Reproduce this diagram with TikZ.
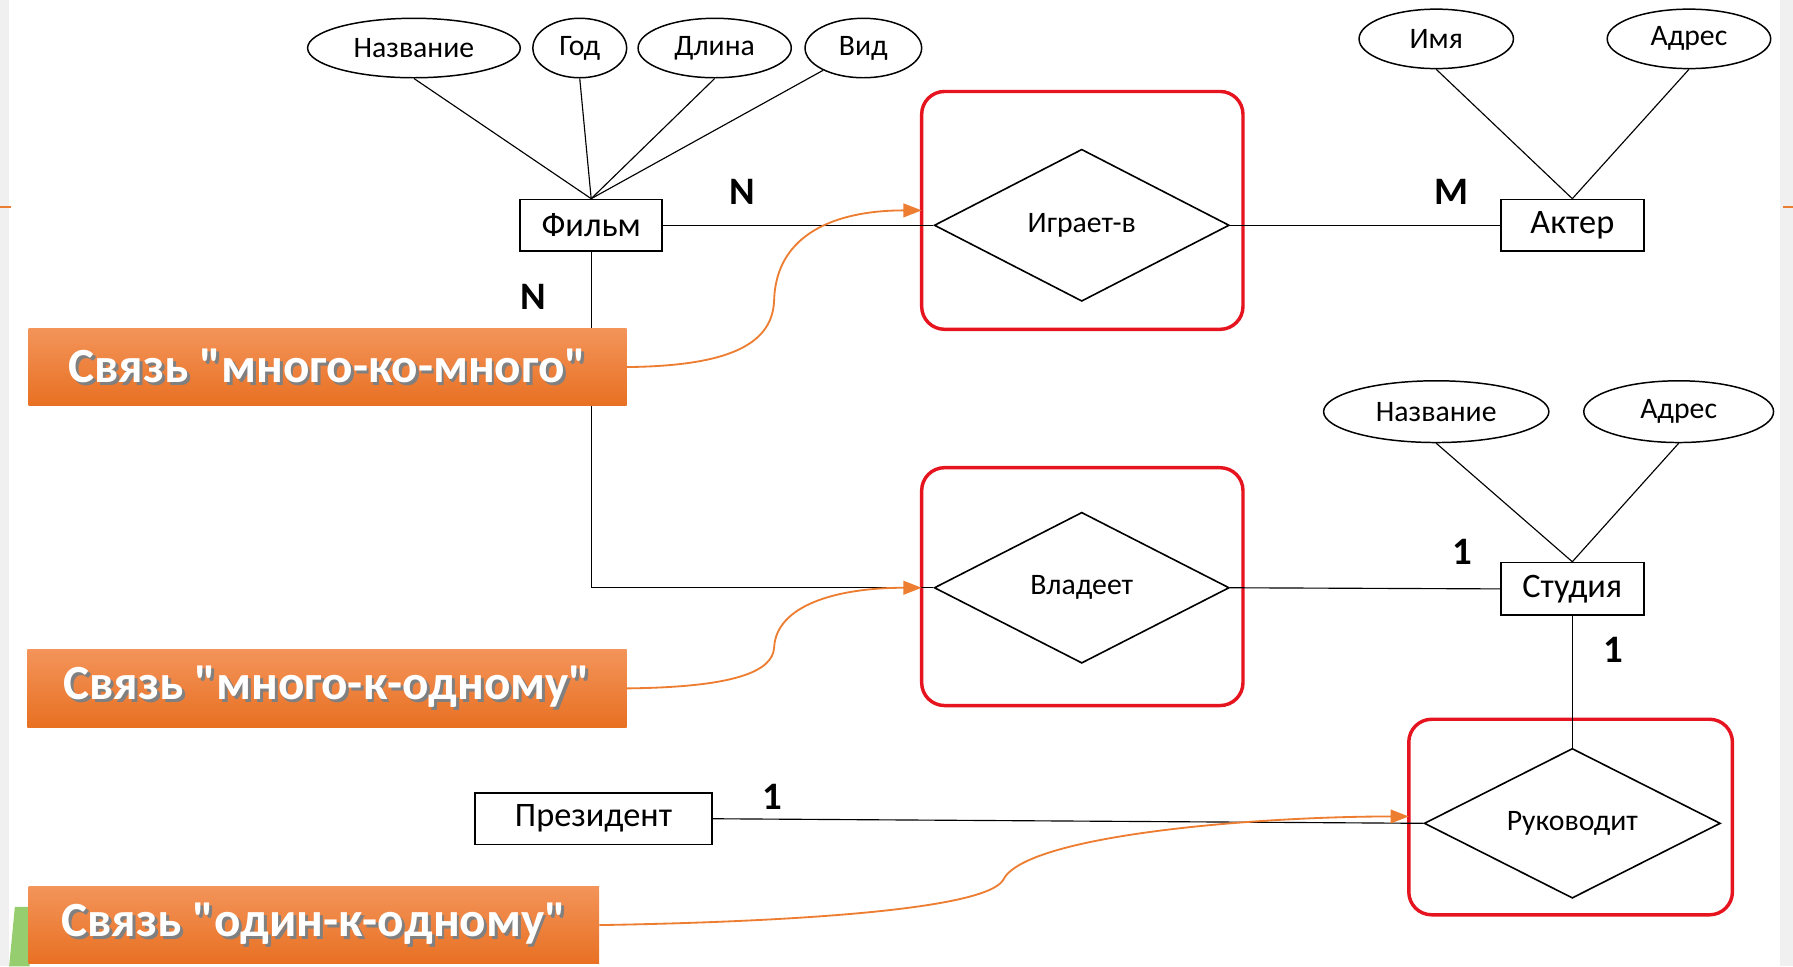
\documentclass[tikz,border=0pt]{standalone}
\usepackage{fontspec}
\setmainfont{Carlito}
\newfontfamily\cfont{Carlito}
\usetikzlibrary{shapes.geometric,arrows.meta}
\definecolor{oran}{RGB}{237,125,49}
\definecolor{orantop}{RGB}{243,148,90}
\definecolor{oranbot}{RGB}{232,112,34}
\definecolor{redb}{RGB}{230,20,30}
\definecolor{greenb}{RGB}{150,205,110}
\newcommand\shtext[1]{\rlap{\kern2.5pt\raisebox{-2.5pt}{\color{black!50}#1}}#1}
\begin{document}
\begin{tikzpicture}[x=1pt,y=-1pt,
  attr/.style={ellipse,draw,line width=1.3pt,inner sep=0pt,minimum height=52pt,font=\fontsize{26}{26}\selectfont},
  ent/.style={rectangle,draw,line width=1.5pt,inner sep=0pt,minimum height=45pt,font=\fontsize{30}{30}\selectfont},
  rel/.style={diamond,draw,line width=1.4pt,inner sep=0pt,aspect=1.94,font=\fontsize{26}{26}\selectfont},
  redbox/.style={draw=redb,line width=3pt,rounded corners=20pt},
  link/.style={draw,line width=1pt},
  card/.style={font=\bfseries\fontsize{34}{34}\selectfont,inner sep=0pt},
  callout/.style={rectangle,top color=orantop,bottom color=oranbot,inner sep=0pt,minimum height=68pt,text=white,font=\cfont\bfseries\fontsize{43}{43}\selectfont},
  pointer/.style={draw=oran,line width=1.6pt,-{Triangle[length=16pt,width=12pt]}}
]
\useasboundingbox (0,0) rectangle (1568,845);
\fill[white] (0,0) rectangle (1568,845);
% slide decorations
\fill[black!6] (0,0) rectangle (8,845);
\fill[black!6] (1557,0) rectangle (1568,845);
\draw[oran,line width=2pt] (0,181) -- (10,181);
\draw[oran,line width=2pt] (1559,181) -- (1568,181);
\fill[greenb] (13,793) -- (26,793) -- (26,845) -- (8,845) -- cycle;

% red boxes
\draw[redbox] (806,80) rectangle (1087,288);
\draw[redbox] (806,409) rectangle (1087,617);
\draw[redbox] (1232,629) rectangle (1515,800);

% entities
\node[ent,minimum width=124pt] (film) at (517,197) {Фильм};
\node[ent,minimum width=125pt] (actor) at (1375,197) {Актер};
\node[ent,minimum width=125pt,minimum height=46pt] (studio) at (1375,515) {Студия};
\node[ent,minimum width=207pt] (pres) at (519,716) {Президент};

% attributes
\node[attr,minimum width=186pt] (fname) at (362,42) {Название};
\node[attr,minimum width=82pt] (fyear) at (507,42) {Год};
\node[attr,minimum width=134pt] (flen) at (625,42) {Длина};
\node[attr,minimum width=102pt] (ftype) at (755,42) {Вид};
\node[attr,minimum width=135pt] (aname) at (1256,34) {Имя};
\node[attr,minimum width=143pt] (aaddr) at (1477,34) {Адрес};
\node[attr,minimum width=197pt,minimum height=54pt] (sname) at (1256,360) {Название};
\node[attr,minimum width=166pt,minimum height=54pt] (saddr) at (1468,360) {Адрес};

% relationships
\node[rel,minimum width=258pt,minimum height=133pt] (plays) at (946,197) {Играет-в};
\node[rel,minimum width=258pt,minimum height=132pt] (owns) at (946,514) {Владеет};
\node[rel,minimum width=259pt,minimum height=131pt] (runs) at (1375,720) {Руководит};

% attribute links
\draw[link] (fname.south) -- (film.north);
\draw[link] (fyear.south) -- (film.north);
\draw[link] (flen.south) -- (film.north);
\draw[link] (ftype) -- (film.north);
\draw[link] (aname.south) -- (actor.north);
\draw[link] (aaddr.south) -- (actor.north);
\draw[link] (sname.south) -- (studio.north);
\draw[link] (saddr.south) -- (studio.north);

% relationship links
\draw[link] (film.east) -- (plays.west);
\draw[link] (plays.east) -- (actor.west);
\draw[link] (film.south) |- (owns.west);
\draw[link] (owns.east) -- (studio.west);
\draw[link] (studio.south) -- (runs.north);
\draw[link] (pres.east) -- (runs.west);

% cardinalities
\node[card] (c1) at (649,168) {N};
\node[card] (c2) at (466,260) {N};
\node[card] (c3) at (1269,168) {M};
\node[card] (c4) at (1279,483) {1};
\node[card] (c5) at (1411,568) {1};
\node[card] (c6) at (675,697) {1};

% callouts
\node[callout,minimum width=523pt] (k1) at (286.5,321) {\shtext{Связь "много-ко-много"}};
\node[callout,minimum width=524pt] (k2) at (286,602) {\shtext{Связь "много-к-одному"}};
\node[callout,minimum width=499pt] (k3) at (274.5,809) {\shtext{Связь "один-к-одному"}};

\coordinate (t1) at (806,184);
\coordinate (t2) at (806,514);
\coordinate (t3) at (1232,714);
\draw[pointer] (k1.east) .. controls (640,320) and (676,300) .. (677,262) .. controls (679,205) and (730,184) .. (t1);
\draw[pointer] (k2.east) .. controls (640,601) and (676,588) .. (677,566) .. controls (679,530) and (730,514) .. (t2);
\draw[pointer] (k3.east) .. controls (700,806) and (860,795) .. (877,770) .. controls (895,730) and (1100,714) .. (t3);
\end{tikzpicture}
\end{document}
